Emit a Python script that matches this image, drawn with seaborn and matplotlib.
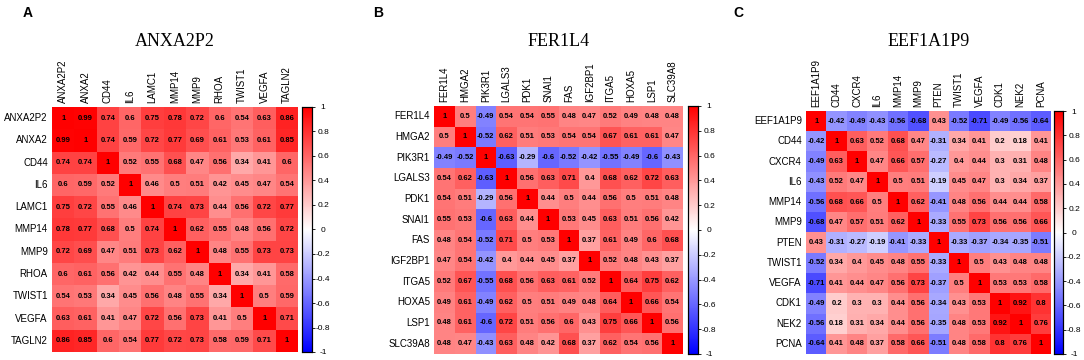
import numpy as np
import pandas as pd
import matplotlib
matplotlib.use("Agg")
import matplotlib.pyplot as plt
import seaborn as sns

# ==========================================================
# Data (correlation matrices)
# ==========================================================

genes_a = ["ANXA2P2", "ANXA2", "CD44", "IL6", "LAMC1", "MMP14", "MMP9",
           "RHOA", "TWIST1", "VEGFA", "TAGLN2"]
corr_a = [
    [1, 0.99, 0.74, 0.6, 0.75, 0.78, 0.72, 0.6, 0.54, 0.63, 0.86],
    [0.99, 1, 0.74, 0.59, 0.72, 0.77, 0.69, 0.61, 0.53, 0.61, 0.85],
    [0.74, 0.74, 1, 0.52, 0.55, 0.68, 0.47, 0.56, 0.34, 0.41, 0.6],
    [0.6, 0.59, 0.52, 1, 0.46, 0.5, 0.51, 0.42, 0.45, 0.47, 0.54],
    [0.75, 0.72, 0.55, 0.46, 1, 0.74, 0.73, 0.44, 0.56, 0.72, 0.77],
    [0.78, 0.77, 0.68, 0.5, 0.74, 1, 0.62, 0.55, 0.48, 0.56, 0.72],
    [0.72, 0.69, 0.47, 0.51, 0.73, 0.62, 1, 0.48, 0.55, 0.73, 0.73],
    [0.6, 0.61, 0.56, 0.42, 0.44, 0.55, 0.48, 1, 0.34, 0.41, 0.58],
    [0.54, 0.53, 0.34, 0.45, 0.56, 0.48, 0.55, 0.34, 1, 0.5, 0.59],
    [0.63, 0.61, 0.41, 0.47, 0.72, 0.56, 0.73, 0.41, 0.5, 1, 0.71],
    [0.86, 0.85, 0.6, 0.54, 0.77, 0.72, 0.73, 0.58, 0.59, 0.71, 1],
]

genes_b = ["FER1L4", "HMGA2", "PIK3R1", "LGALS3", "PDK1", "SNAI1", "FAS",
           "IGF2BP1", "ITGA5", "HOXA5", "LSP1", "SLC39A8"]
corr_b = [
    [1, 0.5, -0.49, 0.54, 0.54, 0.55, 0.48, 0.47, 0.52, 0.49, 0.48, 0.48],
    [0.5, 1, -0.52, 0.62, 0.51, 0.53, 0.54, 0.54, 0.67, 0.61, 0.61, 0.47],
    [-0.49, -0.52, 1, -0.63, -0.29, -0.6, -0.52, -0.42, -0.55, -0.49, -0.6, -0.43],
    [0.54, 0.62, -0.63, 1, 0.56, 0.63, 0.71, 0.4, 0.68, 0.62, 0.72, 0.63],
    [0.54, 0.51, -0.29, 0.56, 1, 0.44, 0.5, 0.44, 0.56, 0.5, 0.51, 0.48],
    [0.55, 0.53, -0.6, 0.63, 0.44, 1, 0.53, 0.45, 0.63, 0.51, 0.56, 0.42],
    [0.48, 0.54, -0.52, 0.71, 0.5, 0.53, 1, 0.37, 0.61, 0.49, 0.6, 0.68],
    [0.47, 0.54, -0.42, 0.4, 0.44, 0.45, 0.37, 1, 0.52, 0.48, 0.43, 0.37],
    [0.52, 0.67, -0.55, 0.68, 0.56, 0.63, 0.61, 0.52, 1, 0.64, 0.75, 0.62],
    [0.49, 0.61, -0.49, 0.62, 0.5, 0.51, 0.49, 0.48, 0.64, 1, 0.66, 0.54],
    [0.48, 0.61, -0.6, 0.72, 0.51, 0.56, 0.6, 0.43, 0.75, 0.66, 1, 0.56],
    [0.48, 0.47, -0.43, 0.63, 0.48, 0.42, 0.68, 0.37, 0.62, 0.54, 0.56, 1],
]

genes_c = ["EEF1A1P9", "CD44", "CXCR4", "IL6", "MMP14", "MMP9", "PTEN",
           "TWIST1", "VEGFA", "CDK1", "NEK2", "PCNA"]
corr_c = [
    [1, -0.42, -0.49, -0.43, -0.56, -0.68, 0.43, -0.52, -0.71, -0.49, -0.56, -0.64],
    [-0.42, 1, 0.63, 0.52, 0.68, 0.47, -0.31, 0.34, 0.41, 0.2, 0.18, 0.41],
    [-0.49, 0.63, 1, 0.47, 0.66, 0.57, -0.27, 0.4, 0.44, 0.3, 0.31, 0.48],
    [-0.43, 0.52, 0.47, 1, 0.5, 0.51, -0.19, 0.45, 0.47, 0.3, 0.34, 0.37],
    [-0.56, 0.68, 0.66, 0.5, 1, 0.62, -0.41, 0.48, 0.56, 0.44, 0.44, 0.58],
    [-0.68, 0.47, 0.57, 0.51, 0.62, 1, -0.33, 0.55, 0.73, 0.56, 0.56, 0.66],
    [0.43, -0.31, -0.27, -0.19, -0.41, -0.33, 1, -0.33, -0.37, -0.34, -0.35, -0.51],
    [-0.52, 0.34, 0.4, 0.45, 0.48, 0.55, -0.33, 1, 0.5, 0.43, 0.48, 0.48],
    [-0.71, 0.41, 0.44, 0.47, 0.56, 0.73, -0.37, 0.5, 1, 0.53, 0.53, 0.58],
    [-0.49, 0.2, 0.3, 0.3, 0.44, 0.56, -0.34, 0.43, 0.53, 1, 0.92, 0.8],
    [-0.56, 0.18, 0.31, 0.34, 0.44, 0.56, -0.35, 0.48, 0.53, 0.92, 1, 0.76],
    [-0.64, 0.41, 0.48, 0.37, 0.58, 0.66, -0.51, 0.48, 0.58, 0.8, 0.76, 1],
]

titles = ["ANXA2P2", "FER1L4", "EEF1A1P9"]
letters = ["A", "B", "C"]
cbar_ticks = [1, 0.8, 0.6, 0.4, 0.2, 0, -0.2, -0.4, -0.6, -0.8, -1]

# ==========================================================
# Figure layout (pixel boxes: left, top, width, height)
# ==========================================================

W, H = 1084, 360
plt.rcParams["font.family"] = ["Liberation Sans", "DejaVu Sans"]

fig = plt.figure(figsize=(W / 100, H / 100), dpi=100)


def box(x, y, w, h):
    return [x / W, 1 - (y + h) / H, w / W, h / H]


panels = [
    (genes_a, corr_a, (52, 107, 246, 245), (302, 107, 10, 245), 23),
    (genes_b, corr_b, (434, 106, 249, 248), (688, 106, 10, 248), 373),
    (genes_c, corr_c, (806, 111, 245, 243), (1054, 111, 9, 243), 733),
]

for i, (genes, corr, hbox, cbox, lx) in enumerate(panels):
    df = pd.DataFrame(corr, index=genes, columns=genes)

    ax = fig.add_axes(box(*hbox))
    cax = fig.add_axes(box(*cbox))

    sns.heatmap(
        df,
        ax=ax,
        cbar_ax=cax,
        cmap="bwr",
        vmin=-1,
        vmax=1,
        annot=True,
        fmt="g",
        annot_kws={"fontsize": 5.5, "fontweight": "bold", "color": "black"},
        square=False,
    )

    ax.xaxis.tick_top()
    ax.set_xticklabels(genes, rotation=90, fontsize=7)
    ax.set_yticklabels(genes, rotation=0, fontsize=7)
    ax.tick_params(axis="both", length=0, pad=3)
    ax.set_xlabel("")
    ax.set_ylabel("")

    # colorbar: centred tick labels to the right of the bar
    cax.set_yticks(cbar_ticks)
    cax.set_yticklabels([format(t, "g") for t in cbar_ticks], fontsize=6,
                        ha="center")
    cax.tick_params(axis="y", length=2, width=0.6, pad=6)
    for s in cax.spines.values():
        s.set_visible(True)
        s.set_linewidth(0.8)
        s.set_color("black")

    cx = (hbox[0] + hbox[2] / 2) / W
    fig.text(cx, 1 - 42 / H, titles[i], ha="center", va="center",
             fontsize=13, family="Liberation Serif")
    fig.text(lx / W, 1 - 13 / H, letters[i], ha="left", va="center",
             fontsize=10, fontweight="bold")

fig.savefig("out.png", dpi=100)
